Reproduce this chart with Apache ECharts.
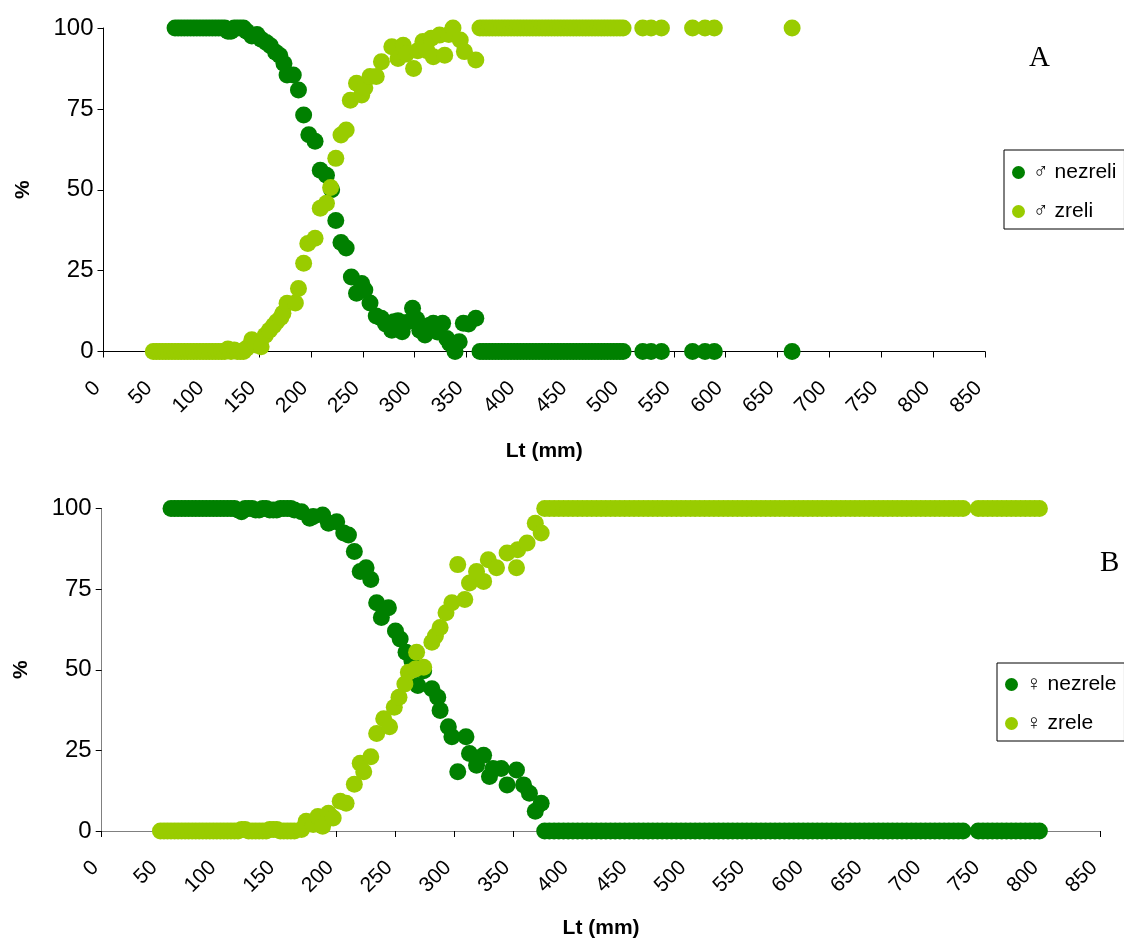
<!DOCTYPE html>
<html><head><meta charset="utf-8">
<script src="https://cdn.jsdelivr.net/npm/echarts@6/dist/echarts.min.js"></script>
<style>html,body{margin:0;padding:0;background:#fff}#c{width:1124px;height:940px}</style>
</head><body><div id="c"></div><script>
// ---- data (Lt in mm, percent) ----
const maleImmature = [
 [69,100],[72,100],[75,100],[78,100],[81,100],[84,100],[87,100],[90,100],[93,100],[96,100],[99,100],[102,100],[105,100],[108,100],[111,100],[114,100],[117,100],[120,99],[123,99],[126,100],[129,100],[132,100],[135,100],
 [138,99],[143,97.5],[148,98],[152,96.5],[157,95.5],[161,94.5],[166,92.5],[170,91.5],[174,89],[177,85.5],[183,85.5],[188,80.8],[193,73.1],[198,67],[204,65],[209,56],[215,54.5],[220,50],[224,40.5],[229,33.7],[234,32],[239,23],[244,18],[249,21],[252,19],[257,15],[263,11],[268,10.3],[272,8.5],[278,6.6],[280,9.2],[284,9.5],[288,6.1],[292,9],[298,13.4],[302,10],[305,6.6],[310,5.1],[314,8],[318,8.7],[322,6],[327,8.7],[331,4],[334,2.5],[339,0],[343,3],[347,8.7],[352,8.5],[359,10.3]
];
const maleMature = [
 [48,0],[51,0],[54,0],[57,0],[60,0],[63,0],[66,0],[69,0],[72,0],[75,0],[78,0],[81,0],[84,0],[87,0],[90,0],[93,0],[96,0],[99,0],[102,0],[105,0],[108,0],[111,0],[114,0],[117,0],[120,0.8],[123,0],[126,0.5],[129,0],[132,0],[135,0],
 [138,1],[143,3.6],[147,2],[152,1.5],[156,5],[160,6.6],[164,8],[167,9.2],[171,10.5],[173,11.8],[177,14.9],[185,15],[188,19.5],[193,27.3],[197,33.4],[204,35],[209,44.3],[215,45.8],[219,50.7],[224,59.7],[229,66.9],[234,68.5],[238,77.7],[244,82.9],[249,79.3],[252,81.5],[257,85],[263,85],[268,89.6],[278,94.2],[284,90.6],[289,94.7],[292,92],[299,87.5],[303,93],[308,95.8],[312,93],[316,96.8],[318,91.1],[324,97.8],[329,91.6],[333,98],[337,100],[344,96.3],[348,92.7],[359,90.1]
];
// lengths where all males were mature (0 % immature, 100 % mature)
const maleAllMatureLt = [363,366,369,372,375,378,381,384,387,390,393,396,399,402,405,408,411,414,417,420,423,426,429,432,435,438,441,444,447,450,453,456,459,462,465,468,471,474,477,480,483,486,489,492,495,498,501,520,528,538,568,580,589,664];

const femaleImmature = [
 [59,100],[62,100],[65,100],[68,100],[71,100],[74,100],[77,100],[80,100],[83,100],[86,100],[89,100],[92,100],[95,100],[98,100],[101,100],[104,100],[107,100],[110,100],[113,100],[116,99.5],[119,99],[122,100],[125,100],[128,100],[131,99.5],[134,99.5],[137,100],[140,100],[143,99.5],[146,99.5],[149,99.5],[152,100],[155,100],[158,100],[161,100],[164,99.5],
 [170,99],[177,97],[180,97.5],[188,98],[193,95.4],[200,95.9],[206,92.4],[210,91.8],[215,86.7],[220,80.5],[225,81.6],[229,78],[234,70.8],[238,66.2],[244,69.2],[250,62],[254,59.5],[259,55.4],[264,52.8],[269,45.1],[274,49.7],[281,44.1],[286,41.5],[288,37.4],[295,32.3],[298,29.2],[303,18.4],[310,29.2],[313,24],[319,20.4],[325,23.5],[330,16.9],[333,19.4],[340,19.4],[345,14.3],[353,18.9],[359,14.3],[364,11.7],[369,6.1],[374,8.6]
];
const femaleMature = [
 [50,0],[53,0],[56,0],[59,0],[62,0],[65,0],[68,0],[71,0],[74,0],[77,0],[80,0],[83,0],[86,0],[89,0],[92,0],[95,0],[98,0],[101,0],[104,0],[107,0],[110,0],[113,0],[116,0],[119,0.5],[122,0.5],[125,0],[128,0],[131,0],[134,0],[137,0],[140,0],[143,0.5],[146,0.5],[149,0.5],[152,0],[155,0],[158,0],[161,0],[164,0],
 [170,0.5],[174,3],[180,2],[184,4.5],[188,1.5],[193,5.5],[197,4],[203,9.2],[208,8.6],[215,14.5],[220,21],[223,18.4],[229,23],[234,30.2],[240,34.8],[245,32.3],[249,38.4],[253,41.5],[258,45.6],[261,49.2],[267,50.2],[268,55.4],[274,50.8],[281,58.5],[284,60.5],[288,63.1],[293,67.7],[298,70.8],[303,82.6],[309,71.8],[313,76.9],[319,80.5],[325,77.4],[329,84.1],[336,81.6],[345,86.2],[353,81.6],[354,87.2],[362,89.3],[369,95.4],[374,92.4]
];
const femaleAllMatureLt = [377,381,385,389,393,397,401,405,409,413,417,421,425,429,433,437,441,445,449,453,457,461,465,469,473,477,481,485,489,493,497,501,505,509,513,517,521,525,529,533,537,541,545,549,553,557,561,565,569,573,577,581,585,589,593,597,601,605,609,613,617,621,625,629,633,637,641,645,649,653,657,661,665,669,673,677,681,685,689,693,697,701,705,709,713,717,721,725,729,733,746,750,754,758,762,766,770,774,778,782,786,790,794,798];

const seriesNames = ['♂ nezreli','♂ zreli','♀ nezrele','♀ zrele'];
const xTicks = {min:0, max:850, step:50};
const yTicks = {min:0, max:100, step:25};

const DARK = '#008000', LIGHT = '#99CC00';
const FONT = '"Liberation Sans", Arial, sans-serif';

const mImm = maleImmature.concat(maleAllMatureLt.map(x => [x, 0]));
const mMat = maleMature.concat(maleAllMatureLt.map(x => [x, 100]));
const fImm = femaleImmature.concat(femaleAllMatureLt.map(x => [x, 0]));
const fMat = femaleMature.concat(femaleAllMatureLt.map(x => [x, 100]));

function xAx(gi, lineColor, gap) {
  return {type:'value', gridIndex:gi, min:xTicks.min, max:xTicks.max, interval:xTicks.step,
    name:'Lt (mm)', nameLocation:'middle', nameGap:gap,
    nameTextStyle:{fontFamily:FONT, fontSize:21, fontWeight:'bold', color:'#000'},
    axisLine:{show:true, onZero:false, lineStyle:{color:lineColor, width:1}},
    axisTick:{show:true, length:6, lineStyle:{color:'#000'}},
    axisLabel:{rotate:45, margin:27, padding:[0,9,0,0], fontFamily:FONT, fontSize:21, color:'#000', showMinLabel:true, showMaxLabel:true},
    splitLine:{show:false}};
}
function yAx(gi, lineColor) {
  return {type:'value', gridIndex:gi, min:yTicks.min, max:yTicks.max, interval:yTicks.step,
    name:'%', nameLocation:'middle', nameGap:70, nameRotate:90,
    nameTextStyle:{fontFamily:FONT, fontSize:21, fontWeight:'bold', color:'#000'},
    axisLine:{show:true, onZero:false, lineStyle:{color:lineColor, width:1}},
    axisTick:{show:true, length:6, lineStyle:{color:'#000'}},
    axisLabel:{margin:10, fontFamily:FONT, fontSize:24, color:'#000'},
    splitLine:{show:false}};
}
function sc(name, data, xi, color) {
  return {type:'scatter', name, data, xAxisIndex:xi, yAxisIndex:xi, symbol:'circle', symbolSize:17,
    itemStyle:{color, opacity:1}, emphasis:{disabled:true}, animation:false};
}
const legendBase = {orient:'vertical', itemWidth:13, itemHeight:13, icon:'circle', itemGap:18,
  borderColor:'#000', borderWidth:1, backgroundColor:'#fff',
  textStyle:{fontFamily:FONT, fontSize:21, color:'#000', padding:[0,0,0,3]}};

const chart = echarts.init(document.getElementById('c'), null, {renderer:'canvas'});
chart.setOption({
  animation:false,
  backgroundColor:'#fff',
  grid:[
    {left:103.5, top:28, width:881.5, height:323.5},
    {left:101.7, top:508.5, width:998.8, height:324.5}
  ],
  xAxis:[xAx(0,'#000',89), xAx(1,'#808080',87)],
  yAxis:[yAx(0,'#000'), yAx(1,'#808080')],
  legend:[
    Object.assign({}, legendBase, {data:[seriesNames[0],seriesNames[1]], left:1004, top:150, padding:[12,8,7,8]}),
    Object.assign({}, legendBase, {data:[seriesNames[2],seriesNames[3]], left:997, top:663, padding:[11,8,7,8]})
  ],
  graphic:[
    {type:'text', left:1029, top:44, style:{text:'A', font:'29px "Liberation Serif", "Times New Roman", serif', fill:'#000'}},
    {type:'text', left:1100, top:549, style:{text:'B', font:'29px "Liberation Serif", "Times New Roman", serif', fill:'#000'}}
  ],
  series:[
    sc(seriesNames[0], mImm, 0, DARK),
    sc(seriesNames[1], mMat, 0, LIGHT),
    sc(seriesNames[2], fImm, 1, DARK),
    sc(seriesNames[3], fMat, 1, LIGHT)
  ]
});
</script></body></html>
